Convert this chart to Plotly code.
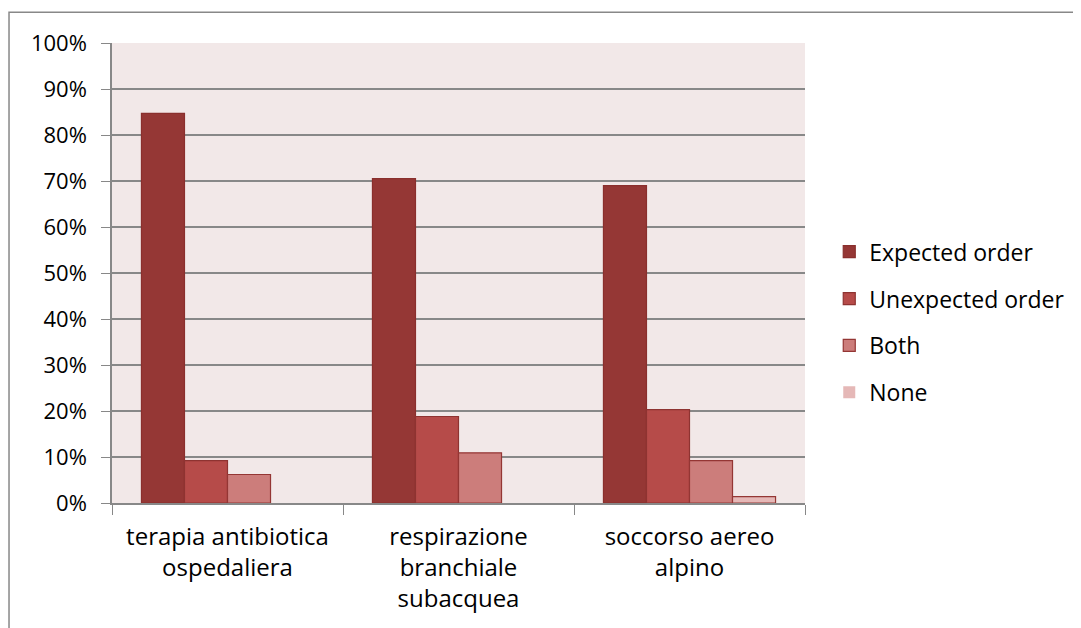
import plotly.graph_objects as go

# categories and series (fractions)
categories = [
    "terapia antibiotica<br>ospedaliera",
    "respirazione<br>branchiale<br>subacquea",
    "soccorso aereo<br>alpino",
]
series_names = ["Expected order", "Unexpected order", "Both", "None"]
expected = [0.847, 0.705, 0.690]
unexpected = [0.092, 0.188, 0.203]
both = [0.062, 0.109, 0.092]
none = [0.0, 0.0, 0.014]

fills = ["#953735", "#B64B49", "#CC7D7B", "#E5B8B7"]
edges = ["#8A2F2D", "#8E3331", "#943634", "#953735"]
FONT = "Open Sans"
GRID = "#888888"

fig = go.Figure()
for i, (name, vals) in enumerate(zip(series_names, [expected, unexpected, both, none])):
    # zero-height bars get no outline (nothing is drawn in the original)
    widths = [1.2 if v > 0 else 0 for v in vals]
    fig.add_trace(
        go.Bar(
            x=categories,
            y=vals,
            name=name,
            legendgroup=name,
            marker=dict(color=fills[i], line=dict(color=edges[i], width=widths)),
        )
    )

# outer chart border (runs off the right and bottom edges)
fig.add_shape(
    type="rect", xref="paper", yref="paper",
    x0=-0.1486, x1=1.6, y0=-0.5, y1=1.067,
    line=dict(color="#888888", width=1.5), layer="below",
)

# page body has an 8px margin, so the plot is pulled up/left by 8px
fig.update_layout(
    width=1081,
    height=628,
    barmode="group",
    bargap=0.255,
    bargroupgap=0,
    plot_bgcolor="#F2E8E8",
    paper_bgcolor="white",
    margin=dict(l=104, r=284, t=35, b=133),
    font=dict(family=FONT, size=22, color="black"),
    legend=dict(
        x=1.035, y=0.393, xanchor="left", yanchor="middle",
        font=dict(family=FONT, size=23, color="black"),
        tracegroupgap=14,
        bgcolor="rgba(0,0,0,0)",
    ),
    xaxis=dict(
        showline=True, linecolor=GRID, linewidth=1.5,
        ticks="outside", tickson="boundaries", ticklen=10, tickcolor=GRID,
        tickfont=dict(family=FONT, size=24),
        ticklabelstandoff=11,
        showgrid=False,
    ),
    yaxis=dict(
        range=[0, 1], dtick=0.1, tickformat=".0%",
        showline=True, linecolor=GRID, linewidth=1.5,
        ticks="outside", ticklen=9, tickcolor=GRID,
        ticklabelstandoff=10,
        showgrid=True, gridcolor=GRID, gridwidth=1.5,
        zeroline=False,
        tickfont=dict(family=FONT, size=22),
    ),
)

fig.write_html("out.html")
